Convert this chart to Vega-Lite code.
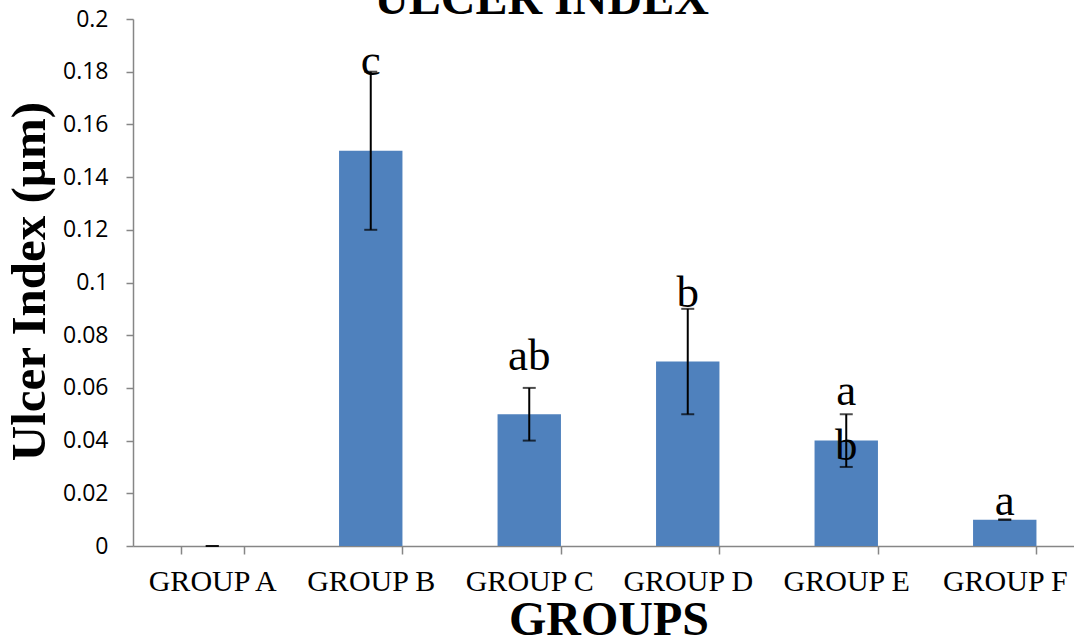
{
  "$schema": "https://vega.github.io/schema/vega-lite/v6.json",
  "autosize": "none",
  "padding": {"left": 133, "top": 19, "right": 0, "bottom": 93},
  "width": 951,
  "height": 527,
  "background": "white",
  "config": {"view": {"stroke": null}},
  "title": {
    "text": "ULCER INDEX",
    "font": "Liberation Serif",
    "fontSize": 48,
    "fontWeight": "bold",
    "color": "black",
    "anchor": "middle",
    "frame": "group",
    "baseline": "alphabetic",
    "offset": 0,
    "dx": -67,
    "dy": 54
  },
  "data": {
    "values": [
      {"group": "GROUP A", "mean": 0.0, "lower": 0.0, "upper": 0.0, "letter": "", "letter_y": 0.0},
      {"group": "GROUP B", "mean": 0.15, "lower": 0.12, "upper": 0.18, "letter": "c", "letter_y": 0.1787},
      {"group": "GROUP C", "mean": 0.05, "lower": 0.04, "upper": 0.06, "letter": "ab", "letter_y": 0.0668},
      {"group": "GROUP D", "mean": 0.07, "lower": 0.05, "upper": 0.09, "letter": "b", "letter_y": 0.0907},
      {"group": "GROUP E", "mean": 0.04, "lower": 0.03, "upper": 0.05, "letter": "a\nb", "letter_y": 0.0535},
      {"group": "GROUP F", "mean": 0.01, "lower": 0.01, "upper": 0.01, "letter": "a", "letter_y": 0.0118}
    ]
  },
  "encoding": {
    "x": {
      "field": "group",
      "type": "nominal",
      "sort": null,
      "scale": {"paddingInner": 0.6, "paddingOuter": 0.3},
      "axis": {
        "title": "GROUPS",
        "titleFont": "Liberation Serif",
        "titleFontSize": 48,
        "titleFontWeight": "bold",
        "titleColor": "black",
        "titleBaseline": "alphabetic",
        "titleY": 88,
        "labelFont": "Liberation Serif",
        "labelFontSize": 30,
        "labelColor": "black",
        "labelAngle": 0,
        "labelBaseline": "alphabetic",
        "labelPadding": 36,
        "tickBand": "extent",
        "tickSize": 8,
        "tickColor": "#868686",
        "tickWidth": 1.5,
        "domainColor": "#868686",
        "domainWidth": 1.5,
        "grid": false
      }
    }
  },
  "layer": [
    {
      "mark": {"type": "bar", "color": "#4F81BD"},
      "encoding": {
        "y": {
          "field": "mean",
          "type": "quantitative",
          "scale": {"domain": [0, 0.2], "nice": false},
          "axis": {
            "title": "Ulcer Index (µm)",
            "titleFont": "Liberation Serif",
            "titleFontSize": 49,
            "titleFontWeight": "bold",
            "titleColor": "black",
            "titleBaseline": "alphabetic",
            "titleAngle": -90,
            "titleAlign": "center",
            "titleX": -89,
            "titleY": 262,
            "values": [0, 0.02, 0.04, 0.06, 0.08, 0.1, 0.12, 0.14, 0.16, 0.18, 0.2],
            "format": "~g",
            "labelFont": "Open Sans",
            "labelFontSize": 23,
            "labelColor": "black",
            "labelPadding": 18,
            "tickSize": 7,
            "tickColor": "#868686",
            "tickWidth": 1.5,
            "domainColor": "#868686",
            "domainWidth": 1.5,
            "grid": false
          }
        }
      }
    },
    {
      "mark": {"type": "rule", "color": "black", "strokeWidth": 2},
      "encoding": {
        "y": {"field": "lower", "type": "quantitative"},
        "y2": {"field": "upper"}
      }
    },
    {
      "mark": {"type": "tick", "color": "black", "size": 13, "thickness": 2},
      "encoding": {"y": {"field": "lower", "type": "quantitative"}}
    },
    {
      "mark": {"type": "tick", "color": "black", "size": 13, "thickness": 2},
      "encoding": {"y": {"field": "upper", "type": "quantitative"}}
    },
    {
      "mark": {
        "type": "text",
        "font": "Liberation Serif",
        "fontSize": 45,
        "color": "black",
        "baseline": "alphabetic",
        "align": "center",
        "lineBreak": "\n",
        "lineHeight": 55
      },
      "encoding": {
        "y": {"field": "letter_y", "type": "quantitative"},
        "text": {"field": "letter"}
      }
    }
  ]
}
